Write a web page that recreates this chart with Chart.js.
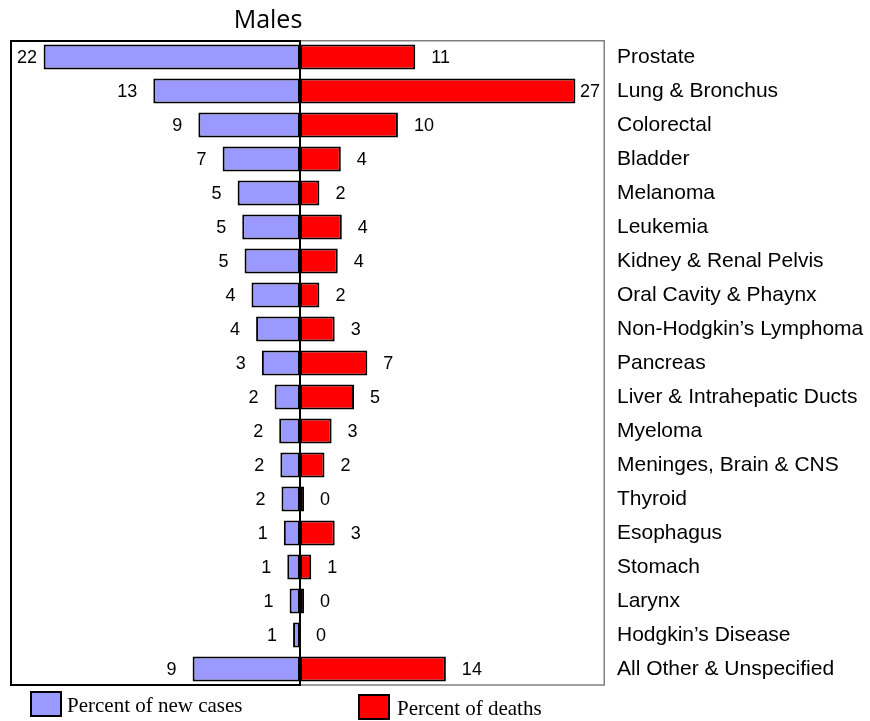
<!DOCTYPE html>
<html>
<head>
<meta charset="utf-8">
<script src="https://cdn.jsdelivr.net/npm/chart.js@4.4.1/dist/chart.umd.min.js"></script>
<style>
  html, body { margin: 0; padding: 0; background: #fff; }
  #wrap { width: 870px; height: 721px; }
</style>
</head>
<body>
<div id="wrap"><canvas id="malesChart"></canvas></div>
<script>
const chartTitle = 'Males';
const sites = [
    'Prostate', 'Lung & Bronchus', 'Colorectal', 'Bladder', 'Melanoma',
    'Leukemia', 'Kidney & Renal Pelvis', 'Oral Cavity & Phaynx',
    'Non-Hodgkin\u2019s Lymphoma', 'Pancreas', 'Liver & Intrahepatic Ducts',
    'Myeloma', 'Meninges, Brain & CNS', 'Thyroid', 'Esophagus', 'Stomach',
    'Larynx', 'Hodgkin\u2019s Disease', 'All Other & Unspecified'
];
const newCases = [22.2, 12.7, 8.8, 6.7, 5.4, 5.0, 4.8, 4.2, 3.8, 3.3, 2.2, 1.8, 1.7, 1.6, 1.4, 1.1, 0.9, 0.6, 9.3];
const deaths = [11.3, 27.0, 9.6, 4.0, 1.9, 4.1, 3.7, 1.9, 3.4, 6.6, 5.3, 3.1, 2.4, 0.4, 3.4, 1.1, 0.4, 0, 14.3];

// draws frames, value labels, title and the legend
const decorations = {
    id: 'decorations',
    afterDatasetsDraw(chart) {
        const ctx = chart.ctx;
        const a = chart.chartArea;
        const mid = chart.scales.xc.getPixelForValue(0);
        ctx.save();

        // thin gray frame round the right half
        ctx.strokeStyle = '#808080';
        ctx.lineWidth = 1.5;
        ctx.beginPath();
        ctx.moveTo(mid, a.top + 0.75);
        ctx.lineTo(a.right - 0.75, a.top + 0.75);
        ctx.lineTo(a.right - 0.75, a.bottom - 1);
        ctx.lineTo(mid, a.bottom - 1);
        ctx.stroke();

        // black box round the left half
        ctx.strokeStyle = '#000';
        ctx.lineWidth = 2;
        ctx.strokeRect(a.left + 1, a.top + 1, mid - a.left - 1, a.bottom - a.top - 2);

        // value labels
        ctx.font = '18px "Liberation Sans", Arial, sans-serif';
        ctx.fillStyle = '#000';
        ctx.textBaseline = 'middle';
        const gap = 16;
        chart.data.datasets.forEach((ds, i) => {
            const meta = chart.getDatasetMeta(i);
            meta.data.forEach((bar, j) => {
                const txt = String(Math.round(Math.abs(ds.data[j])));
                const w = ctx.measureText(txt).width;
                if (ds.data[j] < 0) {
                    ctx.textAlign = 'right';
                    const x = Math.max(bar.x - gap, a.left + 7 + w);
                    ctx.fillText(txt, x, bar.y + 1);
                } else {
                    ctx.textAlign = 'left';
                    const x = Math.min(bar.x + gap, a.right - 5 - w);
                    ctx.fillText(txt, x, bar.y + 1);
                }
            });
        });

        // title
        ctx.font = '25px "Open Sans", sans-serif';
        ctx.textAlign = 'center';
        ctx.textBaseline = 'alphabetic';
        ctx.fillText(chartTitle, 268, 28);

        // legend
        const spots = [
            { x: 31, y: 692, tx: 67, ty: 712 },
            { x: 359, y: 695, tx: 397, ty: 715 }
        ];
        ctx.font = '21px "Liberation Serif", "Times New Roman", serif';
        ctx.textAlign = 'left';
        chart.data.datasets.forEach((ds, i) => {
            const s = spots[i];
            ctx.fillStyle = ds.backgroundColor;
            ctx.fillRect(s.x, s.y, 30, 24);
            ctx.strokeStyle = '#000';
            ctx.lineWidth = 2;
            ctx.strokeRect(s.x, s.y, 30, 24);
            ctx.fillStyle = '#000';
            ctx.fillText(ds.label, s.tx, s.ty);
        });
        ctx.restore();
    }
};

new Chart(document.getElementById('malesChart'), {
    type: 'bar',
    data: {
        labels: sites,
        datasets: [{
            label: 'Percent of new cases',
            data: newCases.map(v => -v),
            xAxisID: 'xc',
            backgroundColor: '#9999FF',
            borderColor: '#000',
            borderWidth: 2,
            borderSkipped: false,
            grouped: false,
            barPercentage: 0.74,
            categoryPercentage: 1
        }, {
            label: 'Percent of deaths',
            data: deaths,
            xAxisID: 'xd',
            backgroundColor: '#FF0000',
            borderColor: '#000',
            borderWidth: 2,
            borderSkipped: false,
            grouped: false,
            barPercentage: 0.74,
            categoryPercentage: 1
        }]
    },
    options: {
        indexAxis: 'y',
        responsive: true,
        maintainAspectRatio: false,
        animation: false,
        layout: {
            padding: { left: 10, top: 40, right: 0, bottom: 35 }
        },
        plugins: {
            legend: { display: false },
            tooltip: { enabled: false }
        },
        scales: {
            xc: {
                type: 'linear',
                display: false,
                min: -25.11,
                max: 26.41
            },
            xd: {
                type: 'linear',
                display: false,
                min: -28.43,
                max: 29.9
            },
            y: {
                position: 'right',
                grid: { display: false },
                border: { display: false },
                afterFit: function(scale) {
                    scale.width = 265;
                },
                ticks: {
                    padding: 4,
                    color: '#000',
                    font: { family: '"Liberation Sans", Arial, sans-serif', size: 21 }
                }
            }
        }
    },
    plugins: [decorations]
});
</script>
</body>
</html>
